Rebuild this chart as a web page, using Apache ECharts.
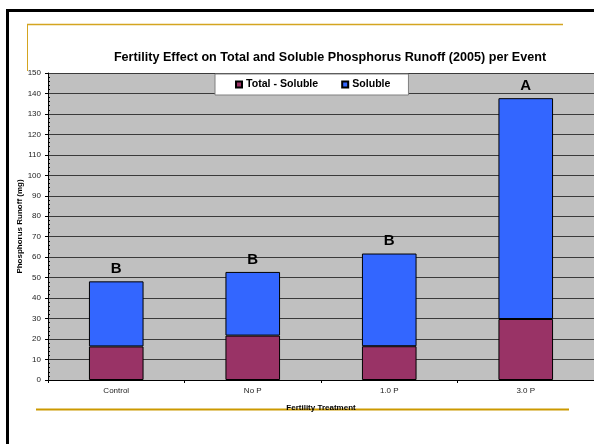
<!DOCTYPE html>
<html>
<head>
<meta charset="utf-8">
<script src="https://cdn.jsdelivr.net/npm/echarts@6/dist/echarts.min.js"></script>
<style>
  html, body { margin: 0; padding: 0; background: #ffffff; }
  #chart { width: 594px; height: 444px; }
</style>
</head>
<body>
<div id="chart"></div>
<script>
// Phosphorus runoff per event, 2005, by fertility treatment
const treatments = ['Control', 'No P', '1.0 P', '3.0 P'];
const totalMinusSoluble = [16.4, 21.7, 16.5, 29.8];
const soluble = [31.8, 31.1, 45.3, 107.9];
const significance = ['B', 'B', 'B', 'A'];
const yTicks = { min: 0, max: 150, step: 10 };

const chart = echarts.init(document.getElementById('chart'), null, { renderer: 'canvas' });
const font = 'Arial, "Liberation Sans", sans-serif';

chart.setOption({
  animation: false,
  backgroundColor: '#ffffff',
  title: {
    text: 'Fertility Effect on Total and Soluble Phosphorus Runoff (2005) per Event',
    left: 325,
    textAlign: 'center',
    top: 46,
    textStyle: { fontFamily: font, fontSize: 12.6, fontWeight: 'bold', color: '#000' }
  },
  legend: {
    left: 215,
    top: 74,
    itemWidth: 6,
    itemHeight: 6,
    itemGap: 23,
    padding: [5, 18, 5, 20],
    backgroundColor: '#ffffff',
    borderColor: '#808080',
    borderWidth: 1,
    icon: 'rect',
    textStyle: { fontFamily: font, fontSize: 10.6, fontWeight: 'bold', color: '#000', padding: [0, 0, 0, -1] },
    data: ['Total - Soluble', 'Soluble']
  },
  grid: { left: 48, top: 73, right: 0, bottom: 64, show: true, backgroundColor: '#c0c0c0', borderWidth: 0 },
  xAxis: {
    type: 'category',
    data: treatments,
    name: 'Fertility Treatment',
    nameLocation: 'middle',
    nameGap: 24,
    nameTextStyle: { fontFamily: font, fontSize: 8, fontWeight: 'bold', color: '#000' },
    axisLine: { lineStyle: { color: '#000', width: 1 } },
    axisTick: { show: true, length: 3, lineStyle: { color: '#000' } },
    axisLabel: { fontFamily: font, fontSize: 8, color: '#222', margin: 7 }
  },
  yAxis: {
    type: 'value',
    min: yTicks.min,
    max: yTicks.max,
    interval: yTicks.step,
    name: 'Phosphorus Runoff (mg)',
    nameLocation: 'middle',
    nameGap: 24,
    nameMoveOverlap: false,
    nameTextStyle: { fontFamily: font, fontSize: 8, fontWeight: 'bold', color: '#000' },
    axisLine: { show: true, lineStyle: { color: '#000', width: 1 } },
    axisTick: { show: true, length: 3, lineStyle: { color: '#000' } },
    minorTick: { show: true, splitNumber: 5, length: -2, lineStyle: { color: '#000' } },
    axisLabel: { fontFamily: font, fontSize: 8, color: '#222', margin: 7 },
    splitLine: { show: true, lineStyle: { color: '#3a3a3a', width: 1 } }
  },
  series: [
    {
      name: 'Total - Soluble',
      type: 'bar',
      stack: 'p',
      barWidth: '40%',
      data: totalMinusSoluble,
      itemStyle: { color: '#993366', borderColor: '#000', borderWidth: 1 }
    },
    {
      name: 'Soluble',
      type: 'bar',
      stack: 'p',
      barWidth: '40%',
      data: soluble,
      itemStyle: { color: '#3366ff', borderColor: '#000', borderWidth: 1 },
      label: {
        show: true,
        position: 'top',
        distance: 5,
        formatter: p => significance[p.dataIndex],
        fontFamily: font,
        fontSize: 15,
        fontWeight: 'bold',
        color: '#000'
      }
    }
  ],
  graphic: [
    // outer black frame (top and left edges)
    { type: 'rect', shape: { x: 6, y: 9, width: 594, height: 3 }, style: { fill: '#000' }, silent: true },
    { type: 'rect', shape: { x: 6, y: 9, width: 3, height: 440 }, style: { fill: '#000' }, silent: true },
    // gold accent lines
    { type: 'line', shape: { x1: 27, y1: 24.5, x2: 563, y2: 24.5 }, style: { stroke: '#d4a520', lineWidth: 1.5 }, silent: true },
    { type: 'line', shape: { x1: 27.5, y1: 24, x2: 27.5, y2: 71 }, style: { stroke: '#d4a520', lineWidth: 1 }, silent: true },
    { type: 'line', shape: { x1: 36, y1: 409.5, x2: 569, y2: 409.5 }, style: { stroke: '#cc9900', lineWidth: 2 }, silent: true, z: -1 }
  ]
});
</script>
</body>
</html>
